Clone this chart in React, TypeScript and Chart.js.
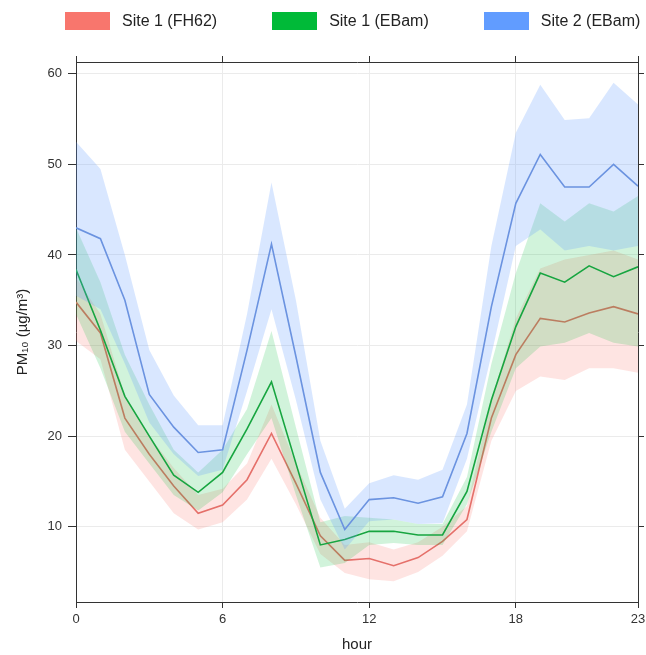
import React, { useEffect, useRef } from "react";
import { Chart, registerables } from "chart.js";

Chart.register(...registerables);

const hours = [0, 1, 2, 3, 4, 5, 6, 7, 8, 9, 10, 11, 12, 13, 14, 15, 16, 17, 18, 19, 20, 21, 22, 23];

const seriesNames = ["Site 1 (FH62)", "Site 1 (EBam)", "Site 2 (EBam)"];

const fh62Mean = [34.8, 31.4, 22.0, 18.0, 14.5, 11.5, 12.4, 15.2, 20.3, 14.8, 9.0, 6.3, 6.5, 5.7, 6.6, 8.4, 10.8, 22.0, 29.0, 33.0, 32.6, 33.6, 34.3, 33.5];
const fh62Lower = [30.5, 28.5, 18.5, 15.0, 11.5, 9.7, 10.5, 13.0, 17.5, 12.5, 7.0, 4.9, 4.2, 4.0, 5.0, 6.8, 9.5, 19.5, 25.0, 26.6, 26.2, 27.5, 27.5, 27.0];
const fh62Upper = [37.5, 33.5, 24.5, 20.0, 16.5, 13.5, 14.2, 17.0, 23.5, 17.0, 11.0, 8.0, 8.3, 7.5, 8.3, 10.0, 12.3, 24.0, 33.0, 38.5, 39.5, 40.0, 40.5, 39.5];

const ebam1Mean = [38.4, 31.7, 24.4, 20.0, 15.7, 13.8, 16.0, 20.8, 26.0, 17.0, 8.0, 8.6, 9.5, 9.5, 9.1, 9.1, 13.9, 24.0, 32.1, 38.0, 37.0, 38.8, 37.6, 38.7];
const ebam1Lower = [33.5, 27.5, 20.5, 17.0, 13.5, 11.8, 13.8, 18.0, 22.0, 13.5, 5.5, 6.0, 8.0, 8.2, 8.0, 8.0, 12.5, 20.5, 27.5, 29.9, 30.3, 31.4, 30.3, 29.9];
const ebam1Upper = [43.0, 37.0, 29.0, 23.5, 18.5, 16.0, 18.5, 23.0, 31.6, 21.0, 10.5, 11.2, 11.0, 10.8, 10.3, 10.3, 15.5, 28.0, 38.0, 45.7, 43.7, 45.7, 44.8, 46.5];

const ebam2Mean = [43.0, 41.8, 35.0, 24.6, 21.0, 18.2, 18.5, 29.5, 41.2, 28.8, 16.0, 9.7, 13.0, 13.2, 12.6, 13.3, 20.3, 34.3, 45.7, 51.1, 47.5, 47.5, 50.0, 47.6];
const ebam2Lower = [35.5, 34.0, 28.0, 21.5, 18.0, 15.6, 16.3, 25.0, 34.0, 24.0, 13.0, 7.5, 10.6, 10.8, 10.3, 10.4, 17.5, 29.0, 41.0, 42.8, 40.5, 41.0, 40.5, 41.0];
const ebam2Upper = [52.5, 49.5, 40.0, 29.5, 24.5, 21.2, 21.2, 33.5, 48.0, 35.0, 19.5, 12.0, 14.8, 15.7, 15.2, 16.3, 23.5, 41.0, 53.5, 58.8, 54.9, 55.1, 59.0, 56.6];

const xTickValues = [0, 6, 12, 18, 23];
const xTickLabels = ["0", "6", "12", "18", "23"];
const yTickValues = [10, 20, 30, 40, 50, 60];

const legendColors = ["#F8766D", "#00BA38", "#619CFF"];
const lineColors = ["#e5706a", "#17a540", "#6b93e0"];
const bandColors = ["rgba(248,118,109,0.2)", "rgba(0,186,56,0.18)", "rgba(97,156,255,0.24)"];

const FONT = "'Liberation Sans', Arial, sans-serif";

const toPts = (arr: number[]) => hours.map((h, i) => ({ x: h, y: arr[i] }));

export default function App() {
  const ref = useRef<HTMLCanvasElement | null>(null);

  useEffect(() => {
    if (!ref.current) return;
    const groups = [
      [fh62Lower, fh62Upper, fh62Mean],
      [ebam1Lower, ebam1Upper, ebam1Mean],
      [ebam2Lower, ebam2Upper, ebam2Mean],
    ];
    const datasets: any[] = [];
    groups.forEach((g, k) => {
      const base = 9 - k * 3;
      datasets.push({
        label: seriesNames[k] + " lower",
        data: toPts(g[0]),
        borderWidth: 0,
        borderColor: "rgba(0,0,0,0)",
        pointRadius: 0,
        fill: false,
        order: base,
      });
      datasets.push({
        label: seriesNames[k] + " upper",
        data: toPts(g[1]),
        borderWidth: 0,
        borderColor: "rgba(0,0,0,0)",
        backgroundColor: bandColors[k],
        pointRadius: 0,
        fill: "-1",
        order: base - 1,
      });
      datasets.push({
        label: seriesNames[k],
        data: toPts(g[2]),
        borderWidth: 1.6,
        borderColor: lineColors[k],
        pointRadius: 0,
        fill: false,
        order: base - 2,
      });
    });

    const setXTicks = (s: any) => {
      s.ticks = xTickValues.map((v) => ({ value: v }));
    };
    const setYTicks = (s: any) => {
      s.ticks = yTickValues.map((v) => ({ value: v }));
    };
    const border = { color: "#333", width: 1 };

    const chart = new Chart(ref.current, {
      type: "line",
      data: { datasets },
      options: {
        animation: false,
        responsive: false,
        maintainAspectRatio: false,
        layout: { padding: 0 },
        plugins: {
          legend: { display: false },
          tooltip: { enabled: false },
        },
        scales: {
          x: {
            type: "linear",
            position: "bottom",
            min: 0,
            max: 23,
            afterBuildTicks: setXTicks,
            afterFit: (s: any) => {
              s.height = 53;
              s.paddingRight = 0;
              s.paddingLeft = 0;
            },
            ticks: {
              autoSkip: false,
              maxRotation: 0,
              padding: 4,
              color: "#333",
              font: { family: FONT, size: 13 },
              callback: (v: any) => {
                const i = xTickValues.indexOf(Number(v));
                return i >= 0 ? xTickLabels[i] : "";
              },
            },
            grid: { color: "#ebebeb", tickColor: "#333", tickLength: 6 },
            border,
            title: {
              display: true,
              text: "hour",
              color: "#222",
              font: { family: FONT, size: 15 },
              padding: { top: 0, bottom: 1 },
            },
          },
          x2: {
            type: "linear",
            position: "top",
            min: 0,
            max: 23,
            afterBuildTicks: setXTicks,
            afterFit: (s: any) => {
              s.height = 62;
              s.paddingRight = 0;
              s.paddingLeft = 0;
            },
            ticks: { display: false },
            grid: { drawOnChartArea: false, tickColor: "#333", tickLength: 6 },
            border,
          },
          y: {
            type: "linear",
            position: "left",
            min: 1.7,
            max: 61.3,
            afterBuildTicks: setYTicks,
            afterFit: (s: any) => {
              s.width = 76;
            },
            ticks: {
              padding: 6,
              color: "#333",
              font: { family: FONT, size: 13 },
            },
            grid: { color: "#ebebeb", tickColor: "#333", tickLength: 8 },
            border,
            title: {
              display: true,
              text: "PM₁₀ (µg/m³)",
              color: "#222",
              font: { family: FONT, size: 15 },
              padding: { top: 14, bottom: 0 },
            },
          },
          y2: {
            type: "linear",
            position: "right",
            min: 1.7,
            max: 61.3,
            afterBuildTicks: setYTicks,
            afterFit: (s: any) => {
              s.width = 8;
            },
            ticks: { display: false },
            grid: { drawOnChartArea: false, tickColor: "#333", tickLength: 6 },
            border,
          },
        },
      } as any,
    });
    return () => chart.destroy();
  }, []);

  return (
    <div style={{ position: "absolute", left: 0, top: 0, width: 646, height: 655, background: "#fff" }}>
      <canvas ref={ref} width={646} height={655} style={{ display: "block" }} />
      <div
        style={{
          position: "absolute",
          top: 12,
          left: 65,
          display: "flex",
          alignItems: "center",
          gap: 55,
          fontFamily: FONT,
          fontSize: 16,
          color: "#222",
        }}
      >
        {seriesNames.map((name, i) => (
          <div key={name} style={{ display: "flex", alignItems: "center" }}>
            <span style={{ display: "inline-block", width: 45, height: 18, background: legendColors[i], marginRight: 12 }} />
            <span style={{ lineHeight: "18px" }}>{name}</span>
          </div>
        ))}
      </div>
    </div>
  );
}
